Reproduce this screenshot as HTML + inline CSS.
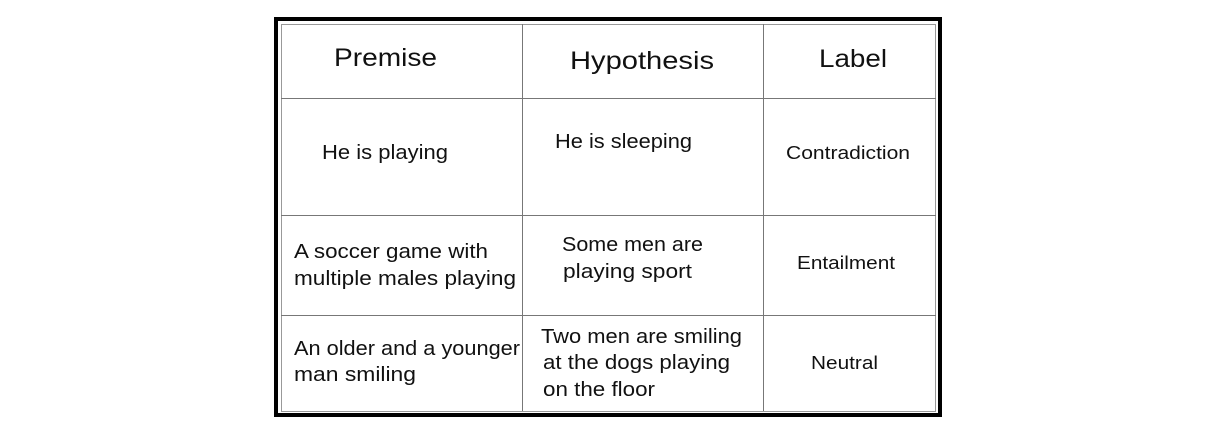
<!DOCTYPE html>
<html><head><meta charset="utf-8"><style>
body{margin:0;background:#fff;width:1212px;height:435px;overflow:hidden}
svg text{font-family:"Liberation Sans",sans-serif;fill:#111}
</style></head><body>
<svg width="1212" height="435" xmlns="http://www.w3.org/2000/svg">
<rect x="276" y="19" width="664" height="396" fill="none" stroke="#000" stroke-width="4"/>
<rect x="281.5" y="24.5" width="654" height="387" fill="none" stroke="#999" stroke-width="1"/>
<g stroke="#777" stroke-width="1">
<line x1="522.5" y1="24" x2="522.5" y2="411"/>
<line x1="763.5" y1="24" x2="763.5" y2="411"/>
<line x1="281" y1="98.5" x2="936" y2="98.5"/>
<line x1="281" y1="215.5" x2="936" y2="215.5"/>
<line x1="281" y1="315.5" x2="936" y2="315.5"/>
</g>
<g font-size="25" lengthAdjust="spacingAndGlyphs">
<text x="334" y="66" textLength="103" lengthAdjust="spacingAndGlyphs">Premise</text>
<text x="570" y="69" textLength="144" lengthAdjust="spacingAndGlyphs">Hypothesis</text>
<text x="819" y="67" textLength="68" lengthAdjust="spacingAndGlyphs">Label</text>
</g>
<g font-size="20">
<text x="322" y="159" textLength="126" lengthAdjust="spacingAndGlyphs">He is playing</text>
<text x="555" y="148" textLength="137" lengthAdjust="spacingAndGlyphs">He is sleeping</text>
<text x="294" y="258" textLength="194" lengthAdjust="spacingAndGlyphs">A soccer game with</text>
<text x="294" y="285" textLength="222" lengthAdjust="spacingAndGlyphs">multiple males playing</text>
<text x="562" y="251" textLength="141" lengthAdjust="spacingAndGlyphs">Some  men are</text>
<text x="563" y="278" textLength="129" lengthAdjust="spacingAndGlyphs">playing sport</text>
<text x="294" y="355" textLength="226" lengthAdjust="spacingAndGlyphs">An older and a younger</text>
<text x="294" y="381" textLength="122" lengthAdjust="spacingAndGlyphs">man smiling</text>
<text x="541" y="343" textLength="201" lengthAdjust="spacingAndGlyphs">Two men are smiling</text>
<text x="543" y="369" textLength="187" lengthAdjust="spacingAndGlyphs">at the dogs playing</text>
<text x="543" y="396" textLength="112" lengthAdjust="spacingAndGlyphs">on the floor</text>
</g>
<g font-size="18">
<text x="786" y="159" textLength="124" lengthAdjust="spacingAndGlyphs">Contradiction</text>
<text x="797" y="269" textLength="98" lengthAdjust="spacingAndGlyphs">Entailment</text>
<text x="811" y="369" textLength="67" lengthAdjust="spacingAndGlyphs">Neutral</text>
</g>
</svg>
</body></html>
